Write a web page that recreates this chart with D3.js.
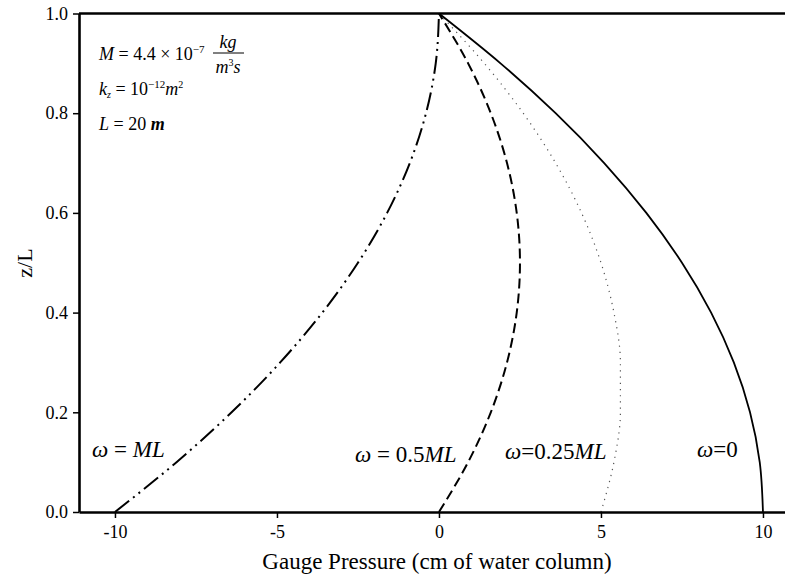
<!DOCTYPE html>
<html>
<head>
<meta charset="utf-8">
<style>
body { margin: 0; background: #fff; }
text { font-family: "Liberation Serif", "Times New Roman", serif; fill: #000; }
</style>
</head>
<body>
<svg id="viz"></svg>
<script src="https://cdn.jsdelivr.net/npm/d3@7"></script>
<script>
var width = 785, height = 577;
var serif = '"Liberation Serif", "Times New Roman", serif';

// z/L levels and gauge pressure (cm of water column)
var zLevels   = [0, 0.1, 0.2, 0.3, 0.4, 0.5, 0.6, 0.7, 0.8, 0.9, 1.0];
var pOmega0   = [10, 9.9, 9.6, 9.1, 8.4, 7.5, 6.4, 5.1, 3.6, 1.9, 0];
var pOmega025 = [5, 5.4, 5.6, 5.6, 5.4, 5.0, 4.4, 3.6, 2.6, 1.4, 0];
var pOmega05  = [0, 0.9, 1.6, 2.1, 2.4, 2.5, 2.4, 2.1, 1.6, 0.9, 0];
var pOmegaML  = [-10, -8.1, -6.4, -4.9, -3.6, -2.5, -1.6, -0.9, -0.4, -0.1, 0];

var xTicks = [-10, -5, 0, 5, 10];
var yTicks = [0, 0.2, 0.4, 0.6, 0.8, 1.0];

var series = [
  {name: "ML",   p: pOmegaML,  dash: "18,5,2,5,2,5", w: 2,   col: "#000"},
  {name: "0.5",  p: pOmega05,  dash: "10,5",         w: 2,   col: "#000"},
  {name: "0.25", p: pOmega025, dash: "1.2,5",        w: 1.2, col: "#555"},
  {name: "0",    p: pOmega0,   dash: null,           w: 1.8, col: "#000"}
];

var svg = d3.select("#viz").attr("width", width).attr("height", height);

var x = d3.scaleLinear().domain([-11.11, 10.68]).range([79, 785]);
var y = d3.scaleLinear().domain([0, 1]).range([512, 13.5]);

// curves
var line = d3.line()
    .x(function(d) { return x(d[0]); })
    .y(function(d) { return y(d[1]); })
    .curve(d3.curveMonotoneY);

svg.append("g").selectAll("path")
    .data(series)
    .enter()
    .append("path")
    .attr("d", function(s) { return line(s.p.map(function(v, i) { return [v, zLevels[i]]; })); })
    .attr("fill", "none")
    .attr("stroke", function(s) { return s.col; })
    .attr("stroke-width", function(s) { return s.w; })
    .attr("stroke-dasharray", function(s) { return s.dash; });

// axes
var xAxis = svg.append("g")
    .attr("transform", "translate(0," + y(0) + ")")
    .call(d3.axisBottom(x).tickValues(xTicks).tickFormat(function(d) { return String(d); })
      .tickSize(6).tickSizeOuter(0).tickPadding(7));

var yAxis = svg.append("g")
    .attr("transform", "translate(" + x.range()[0] + ",0)")
    .call(d3.axisLeft(y).tickValues(yTicks).tickFormat(d3.format(".1f"))
      .tickSize(6).tickSizeOuter(0).tickPadding(5));

[xAxis, yAxis].forEach(function(a) {
  a.attr("font-family", serif).attr("font-size", 18);
  a.select(".domain").attr("stroke", "#000").attr("stroke-width", 2.6);
  a.selectAll(".tick line").attr("stroke", "#000").attr("stroke-width", 1.5);
  a.selectAll(".tick text").style("font-family", serif).style("font-size", "18px");
});

// top border
svg.append("line")
    .attr("x1", x.range()[0]).attr("x2", x.range()[1])
    .attr("y1", y(1)).attr("y2", y(1))
    .attr("stroke", "#000").attr("stroke-width", 2.6);

// axis titles
svg.append("text")
    .attr("x", 437).attr("y", 569)
    .attr("text-anchor", "middle")
    .style("font-size", "23px")
    .text("Gauge Pressure (cm of water column)");

svg.append("text")
    .attr("transform", "translate(32,263) rotate(-90)")
    .attr("text-anchor", "middle")
    .style("font-size", "22px")
    .text("z/L");

// curve labels
var labels = [
  {x: 92,  y: 457, parts: [["ω", 1], [" = ", 0], ["ML", 1]]},
  {x: 355, y: 462, parts: [["ω", 1], [" = ", 0], ["0.5", 0], ["ML", 1]]},
  {x: 505, y: 459, parts: [["ω", 1], ["=", 0], ["0.25", 0], ["ML", 1]]},
  {x: 697, y: 457, parts: [["ω", 1], ["=", 0], ["0", 0]]}
];
labels.forEach(function(l) {
  var t = svg.append("text").attr("x", l.x).attr("y", l.y).style("font-size", "23px");
  l.parts.forEach(function(p) {
    t.append("tspan").style("font-style", p[1] ? "italic" : "normal").text(p[0]);
  });
});

// parameter box
var f = 18;
var t1 = svg.append("text").attr("x", 99).attr("y", 60).style("font-size", f + "px");
t1.append("tspan").style("font-style", "italic").text("M");
t1.append("tspan").text(" = 4.4 \u00d7 10");
t1.append("tspan").attr("dy", -7).style("font-size", "11px").text("\u22127");
svg.append("text").attr("x", 228).attr("y", 48).attr("text-anchor", "middle")
    .style("font-size", f + "px").style("font-style", "italic").text("kg");
svg.append("line").attr("x1", 213).attr("x2", 244).attr("y1", 53).attr("y2", 53)
    .attr("stroke", "#000").attr("stroke-width", 1);
var fr = svg.append("text").attr("x", 228).attr("y", 73).attr("text-anchor", "middle")
    .style("font-size", f + "px").style("font-style", "italic");
fr.append("tspan").text("m");
fr.append("tspan").attr("dy", -7).style("font-size", "10px").style("font-style", "normal").text("3");
fr.append("tspan").attr("dy", 7).text("s");

var t2 = svg.append("text").attr("x", 99).attr("y", 95).style("font-size", f + "px");
t2.append("tspan").style("font-style", "italic").text("k");
t2.append("tspan").attr("dy", 3).style("font-size", "10px").style("font-style", "italic").text("z");
t2.append("tspan").attr("dy", -3).text(" = 10");
t2.append("tspan").attr("dy", -7).style("font-size", "11px").text("\u221212");
t2.append("tspan").attr("dy", 7).style("font-style", "italic").text("m");
t2.append("tspan").attr("dy", -7).style("font-size", "10px").text("2");

var t3 = svg.append("text").attr("x", 99).attr("y", 130).style("font-size", f + "px");
t3.append("tspan").style("font-style", "italic").text("L");
t3.append("tspan").text(" = 20 ");
t3.append("tspan").style("font-style", "italic").style("font-weight", "bold").text("m");
</script>
</body>
</html>
